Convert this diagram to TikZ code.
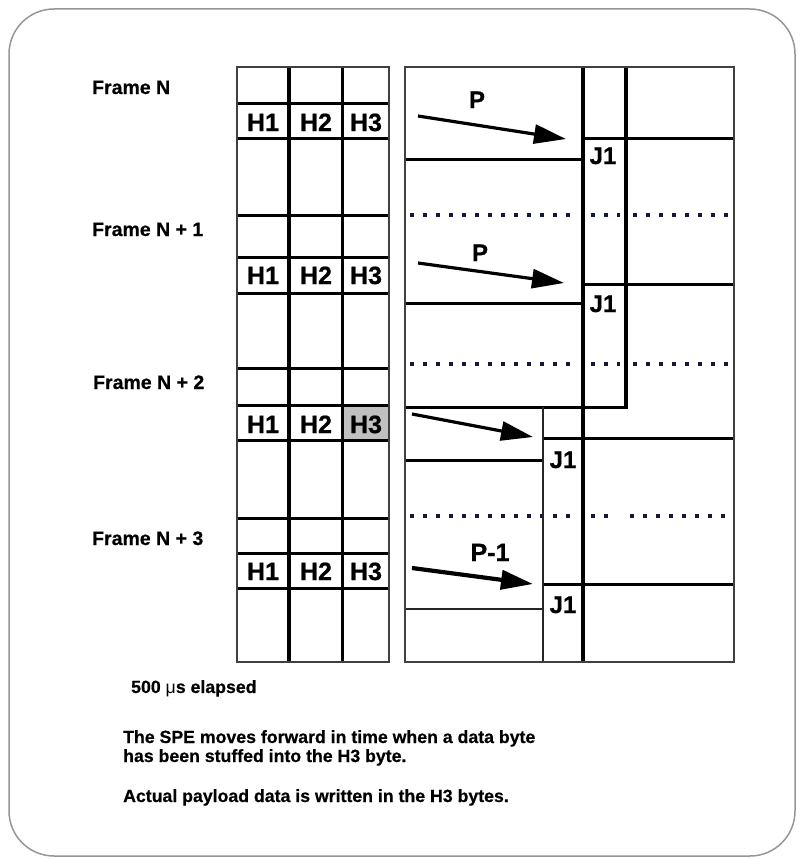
\documentclass[tikz,border=0pt]{standalone}
\usepackage{fontspec}
\setmainfont[BoldFeatures={FakeBold=0.6}]{Liberation Sans}
\newfontfamily\hfont[BoldFeatures={FakeBold=0.8}]{Liberation Sans}
\usetikzlibrary{arrows.meta}
\definecolor{dotc}{RGB}{20,25,60}
\definecolor{cellgray}{RGB}{192,192,192}
\definecolor{framegray}{RGB}{150,150,150}
\tikzset{
  gridln/.style={line width=3pt, black},
  heavyln/.style={line width=3.8pt, black},
  bordln/.style={line width=2.2pt, black!75},
  thinln/.style={line width=2.3pt, black!85},
  dotln/.style={line width=4pt, dotc, dash pattern=on 4pt off 9pt},
  framelbl/.style={anchor=base west, inner sep=0pt, font=\bfseries\fontsize{19.5}{21}\selectfont},
  hlbl/.style={anchor=base, inner sep=0pt, font=\hfont\bfseries\fontsize{25}{27}\selectfont},
  plbl/.style={anchor=base, inner sep=0pt, font=\hfont\bfseries\fontsize{24}{26}\selectfont},
  notelbl/.style={anchor=base west, inner sep=0pt, font=\bfseries\fontsize{17.7}{20}\selectfont},
  parrow/.style={line width=3.2pt, -{Triangle[length=32pt,width=19pt]}},
}
\begin{document}
\begin{tikzpicture}[x=1pt,y=-1pt]
\useasboundingbox (0,0) rectangle (801,859);
% outer rounded frame
\draw[framegray, line width=1.5pt, rounded corners=45pt] (9,9) rectangle (795,856);

% ---------- left grid ----------
\fill[cellgray] (342,405) rectangle (389,440);
\foreach \y in {103,138,215,257,293,368,405,440,518,553,588}
  \draw[gridln] (237,\y) -- (389,\y);
\draw[heavyln] (289,67) -- (289,662);
\draw[gridln] (342,67) -- (342,662);
\draw[bordln] (237,67) rectangle (389,662);

\node[hlbl] (h1a) at (263,131) {H1};
\node[hlbl] (h2a) at (316,131) {H2};
\node[hlbl] (h3a) at (366,131) {H3};
\node[hlbl] (h1b) at (263,284) {H1};
\node[hlbl] (h2b) at (316,284) {H2};
\node[hlbl] (h3b) at (366,284) {H3};
\node[hlbl] (h1c) at (263,433) {H1};
\node[hlbl] (h2c) at (316,433) {H2};
\node[hlbl] (h3c) at (366,433) {H3};
\node[hlbl] (h1d) at (263,580) {H1};
\node[hlbl] (h2d) at (316,580) {H2};
\node[hlbl] (h3d) at (366,580) {H3};

% frame labels
\node[framelbl] (fn)  at (92,94)  {Frame N};
\node[framelbl] (fn1) at (92,236) {Frame N + 1};
\node[framelbl] (fn2) at (93,389) {Frame N + 2};
\node[framelbl] (fn3) at (92,545) {Frame N + 3};

% ---------- right box ----------
% dotted lines
\draw[dotln] (410,215) -- (575,215);
\draw[dotln] (591,215) -- (620,215);
\draw[dotln] (633,215) -- (728,215);
\draw[dotln] (410,364) -- (575,364);
\draw[dotln] (591,364) -- (620,364);
\draw[dotln] (633,364) -- (728,364);
\draw[dotln] (410,516) -- (575,516);
\draw[dotln] (591,516) -- (608,516);
\draw[dotln] (630,516) -- (728,516);

% horizontal structure
\draw[gridln] (405,159) -- (583,159);
\draw[gridln] (583,138) -- (734,138);
\draw[gridln] (405,303) -- (583,303);
\draw[gridln] (583,284) -- (734,284);
\draw[gridln] (405,407) -- (626,407);
\draw[gridln] (543,438) -- (734,438);
\draw[gridln] (405,460) -- (543,460);
\draw[gridln] (543,584) -- (734,584);
\draw[thinln] (405,609) -- (543,609);
% vertical structure
\draw[heavyln] (583,67) -- (583,662);
\draw[heavyln] (626,67) -- (626,408.5);
\draw[thinln] (543,407) -- (543,662);
\draw[bordln] (405,67) rectangle (734,662);

% arrows
\coordinate (a1s) at (418,116);
\coordinate (a1e) at (566,139);
\coordinate (a2s) at (418,263);
\coordinate (a2e) at (564,283);
\coordinate (a3s) at (412,414);
\coordinate (a3e) at (533,437);
\coordinate (a4s) at (412,568);
\coordinate (a4e) at (533,584);
\draw[parrow] (a1s) -- (a1e);
\draw[parrow] (a2s) -- (a2e);
\draw[parrow] (a3s) -- (a3e);
\draw[parrow, line width=4.2pt] (a4s) -- (a4e);

\node[plbl] (p1) at (477,108) {P};
\node[plbl] (p2) at (480,261) {P};
\node[plbl, font=\hfont\bfseries\fontsize{25}{27}\selectfont] (p3) at (490,561) {P-1};
\node[plbl] (j1a) at (603,164) {J1};
\node[plbl] (j1b) at (603,312) {J1};
\node[plbl] (j1c) at (563,468) {J1};
\node[plbl] (j1d) at (563,613) {J1};

% notes
\node[notelbl] (el) at (131,693) {500 {\mdseries μ}s elapsed};
\node[notelbl] (t1) at (123,743) {The SPE moves forward in time when a data byte};
\node[notelbl] (t2) at (123,762) {has been stuffed into the H3 byte.};
\node[notelbl] (t3) at (123,802) {Actual payload data is written in the H3 bytes.};
\end{tikzpicture}
\end{document}
